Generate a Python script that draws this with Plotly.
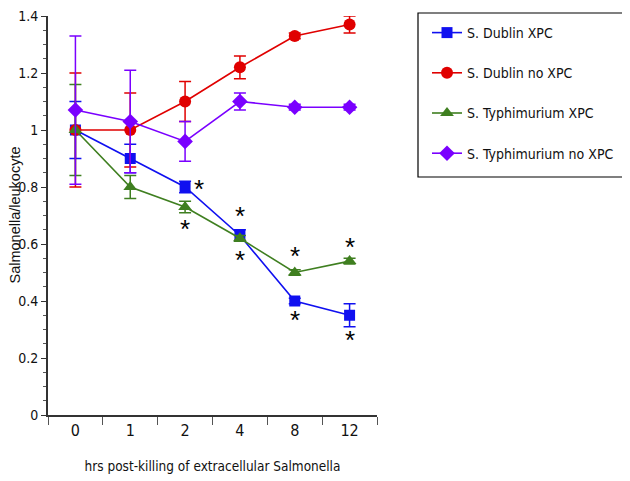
import plotly.graph_objects as go

hours = ["0", "1", "2", "4", "8", "12"]

dublin_xpc = [1.0, 0.90, 0.80, 0.63, 0.40, 0.35]
dublin_xpc_err = [0.10, 0.05, 0.02, 0.02, 0.01, 0.04]
dublin_no = [1.0, 1.0, 1.10, 1.22, 1.33, 1.37]
dublin_no_err = [0.20, 0.13, 0.07, 0.04, 0.01, 0.03]
typh_xpc = [1.0, 0.80, 0.73, 0.62, 0.50, 0.54]
typh_xpc_err = [0.16, 0.04, 0.02, 0.01, 0.01, 0.01]
typh_no = [1.07, 1.03, 0.96, 1.10, 1.08, 1.08]
typh_no_err = [0.26, 0.18, 0.07, 0.03, 0.01, 0.01]

# significance asterisks: (category, y value, pixel x offset)
star_x = ["2", "2", "4", "4", "8", "8", "12", "12"]
star_y = [0.80, 0.66, 0.705, 0.55, 0.565, 0.34, 0.595, 0.27]
star_dx = [14, 0, 0, 0, 0, 0, 0, 0]

FONT = "DejaVu Sans Condensed, Liberation Sans Narrow, Arial Narrow, sans-serif"

series = [
    ("S. Dublin XPC", dublin_xpc, dublin_xpc_err, "#1010f0", "square", 11),
    ("S. Dublin no XPC", dublin_no, dublin_no_err, "#e00000", "circle", 12),
    ("S. Typhimurium XPC", typh_xpc, typh_xpc_err, "#3f7f20", "triangle-up", 12),
    ("S. Typhimurium no XPC", typh_no, typh_no_err, "#7a00ff", "diamond", 12),
]

W, H = 622, 473
ML, MR, MT, MB = 40, 253, 8, 66
PW, PH = W - ML - MR, H - MT - MB

fig = go.Figure()
for i, (name, vals, errs, col, sym, sz) in enumerate(series):
    fig.add_trace(go.Scatter(
        x=hours, y=vals, name=name, mode="lines+markers",
        legendgroup=f"g{i}",
        line=dict(color=col, width=1.6),
        marker=dict(color=col, symbol=sym, size=sz),
        error_y=dict(type="data", array=errs, visible=True,
                     color=col, thickness=1.5, width=6),
    ))

for sx, sy, dx in zip(star_x, star_y, star_dx):
    fig.add_annotation(x=hours.index(sx), y=sy, text="*", showarrow=False,
                       xshift=dx, yshift=-2,
                       font=dict(family="Liberation Sans, Arial", size=26, color="black"))

# y-axis title placed as rotated annotation
fig.add_annotation(xref="paper", yref="paper", x=(6 - ML) / PW, y=0.5,
                   text="Salmonella/leukocyte", textangle=-90, showarrow=False,
                   xanchor="center", yanchor="middle",
                   font=dict(family="Liberation Sans, Arial", size=14.5, color="#111111"))

# legend frame (figure pixel positions converted to paper units)
fig.add_shape(type="rect", xref="paper", yref="paper",
              x0=(410 - ML) / PW, x1=(617 - ML) / PW,
              y0=(H - MB - 169) / PH, y1=(H - MB - 5) / PH,
              line=dict(color="black", width=1.2), fillcolor="rgba(0,0,0,0)")

fig.update_layout(
    width=W, height=H,
    margin=dict(l=ML, r=MR, t=MT, b=MB, autoexpand=False),
    paper_bgcolor="white", plot_bgcolor="white",
    font=dict(family=FONT, color="#111111", size=15),
    legend=dict(
        xref="container", yref="container",
        x=419 / W, y=1 - 9 / H, xanchor="left", yanchor="top",
        borderwidth=0, bgcolor="rgba(0,0,0,0)",
        font=dict(family=FONT, size=14, color="#111111"),
        tracegroupgap=19,
    ),
    showlegend=True,
)

fig.update_xaxes(
    type="category", categoryorder="array", categoryarray=hours,
    range=[-0.5, 5.5], automargin=False,
    showline=True, linecolor="#333333", linewidth=2,
    ticks="outside", tickson="boundaries", ticklen=8, tickcolor="#555555",
    showgrid=False, zeroline=False,
    tickfont=dict(family=FONT, size=16),
    title=dict(text="hrs post-killing of extracellular Salmonella",
               font=dict(family=FONT, size=13.5), standoff=22),
)
fig.update_yaxes(
    range=[0, 1.4], automargin=False, ticklabeloverflow="allow",
    tickvals=[0, 0.2, 0.4, 0.6, 0.8, 1.0, 1.2, 1.4],
    ticktext=["0", "0.2", "0.4", "0.6", "0.8", "1", "1.2", "1.4"],
    showline=True, linecolor="#333333", linewidth=2,
    ticks="outside", ticklen=5, tickcolor="#333333",
    minor=dict(dtick=0.05, ticks="outside", ticklen=3, tickcolor="#555555"),
    showgrid=False, zeroline=False,
    tickfont=dict(family=FONT, size=14),
)

fig.write_html("out.html")
